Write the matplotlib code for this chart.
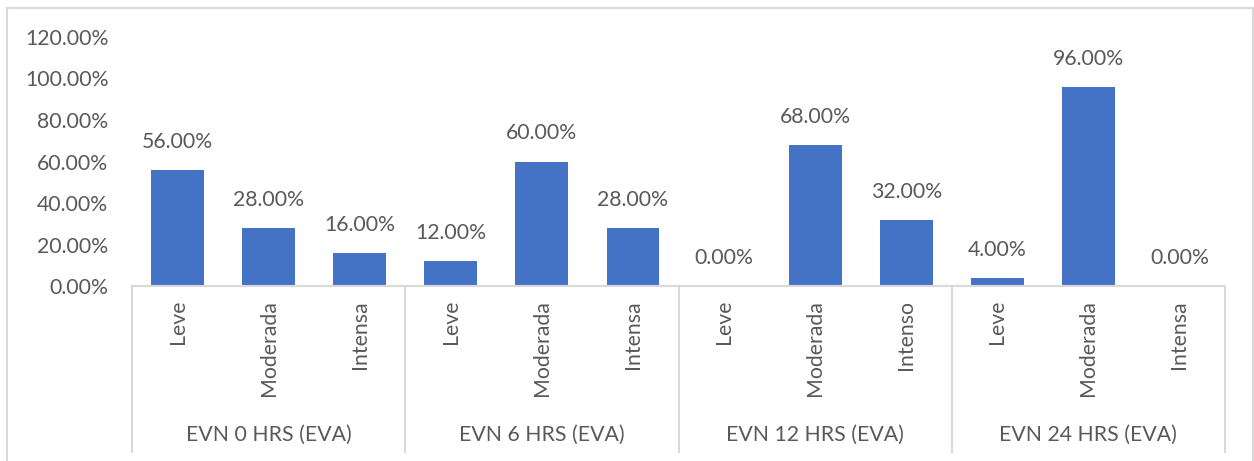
import matplotlib.pyplot as plt
from matplotlib.patches import Rectangle
from matplotlib.transforms import blended_transform_factory

plt.rcParams['font.family'] = ['Lato', 'DejaVu Sans']

groups = ['EVN 0 HRS (EVA)', 'EVN 6 HRS (EVA)', 'EVN 12 HRS (EVA)', 'EVN 24 HRS (EVA)']
cats = [['Leve', 'Moderada', 'Intensa'],
        ['Leve', 'Moderada', 'Intensa'],
        ['Leve', 'Moderada', 'Intenso'],
        ['Leve', 'Moderada', 'Intensa']]
values = [56, 28, 16, 12, 60, 28, 0, 68, 32, 4, 96, 0]
yticks = [0, 20, 40, 60, 80, 100, 120]

blue = '#4472C4'
txt = '#595959'
line = '#D9D9D9'
fs = 15.3

W, H = 1254, 461
fig = plt.figure(figsize=(W / 100, H / 100), dpi=100)
ax = fig.add_axes([132 / W, 1 - 286 / H, (1225 - 132) / W, (286 - 37) / H])

# outer chart frame
fig.patches.append(Rectangle((7 / W, -0.1), 1253 / W - 7 / W, 1.1 - 8 / H,
                             transform=fig.transFigure, fill=False,
                             edgecolor=line, lw=1.5))

labels = [c for g in cats for c in g]
xs = list(range(len(values)))
bars = ax.bar(xs, values, width=0.58, color=blue)

for x, v in zip(xs, values):
    ax.annotate('%.2f%%' % v, (x, v), xytext=(0, 13), textcoords='offset points',
                ha='center', va='bottom', fontsize=fs, color=txt)

ax.set_xlim(-0.5, len(values) - 0.5)
ax.set_ylim(0, 120)
ax.set_yticks(yticks)
ax.set_yticklabels(['%.2f%%' % t for t in yticks])
ax.tick_params(axis='y', length=0, pad=17, labelsize=fs, labelcolor=txt)

ax.set_xticks(xs)
ax.set_xticklabels(labels, rotation=90, va='top', ha='center')
ax.tick_params(axis='x', length=0, pad=10, labelsize=fs, labelcolor=txt)

for s in ['top', 'right', 'left']:
    ax.spines[s].set_visible(False)
ax.spines['bottom'].set_color(line)
ax.spines['bottom'].set_linewidth(1.5)

trans = blended_transform_factory(ax.transData, ax.transAxes)
sep_bottom = -(452 - 286) / (286 - 37)
label_y = -(435 - 286) / (286 - 37)
for i in range(len(groups) + 1):
    xb = i * 3 - 0.5
    ax.plot([xb, xb], [0, sep_bottom], transform=trans, color=line,
            lw=1.5, clip_on=False)
for i, g in enumerate(groups):
    ax.text(i * 3 + 1, label_y, g, transform=trans, ha='center', va='center',
            fontsize=fs, color=txt)

fig.savefig('out.png', dpi=100)
